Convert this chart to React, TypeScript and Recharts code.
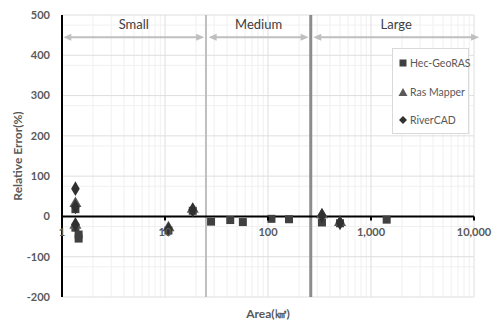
import {
  ScatterChart,
  Scatter,
  XAxis,
  YAxis,
  CartesianGrid,
  ReferenceLine,
} from "recharts";

const hecGeoRas = [
  { area: 1.35, error: 18 },
  { area: 1.35, error: -28 },
  { area: 1.45, error: -45 },
  { area: 1.45, error: -55 },
  { area: 10.8, error: -35 },
  { area: 18.6, error: 14 },
  { area: 28, error: -13 },
  { area: 43, error: -9 },
  { area: 57, error: -14 },
  { area: 108, error: -6 },
  { area: 160, error: -7 },
  { area: 334, error: -15 },
  { area: 500, error: -17 },
  { area: 1420, error: -8 },
];

const rasMapper = [
  { area: 1.35, error: 32 },
  { area: 1.35, error: -22 },
  { area: 10.8, error: -28 },
  { area: 18.6, error: 18 },
  { area: 334, error: 4 },
  { area: 500, error: -15 },
];

const riverCad = [
  { area: 1.35, error: 69 },
  { area: 1.35, error: 24 },
  { area: 1.35, error: -20 },
  { area: 10.8, error: -32 },
  { area: 18.6, error: 16 },
  { area: 334, error: 2 },
  { area: 500, error: -16 },
];

const xTicks = [1, 10, 100, 1000, 10000];
const yTicks = [-200, -100, 0, 100, 200, 300, 400, 500];
const xMinor = [2, 3, 4, 5, 6, 7, 8, 9, 20, 30, 40, 50, 60, 70, 80, 90, 200, 300, 400, 500, 600, 700, 800, 900, 2000, 3000, 4000, 5000, 6000, 7000, 8000, 9000];
const yMinor = [-175, -150, -125, -75, -50, -25, 25, 50, 75, 125, 150, 175, 225, 250, 275, 325, 350, 375, 425, 450, 475];

const classBounds = [25, 260];
const classes = [
  { name: "Small", from: 1.03, to: 24 },
  { name: "Medium", from: 26.5, to: 248 },
  { name: "Large", from: 275, to: 11200 },
];
const arrowY = 445;

const W = 492;
const H = 320;
const M = { top: 15, right: 18, left: 12, bottom: 0 };
const X_AXIS_H = 23;
const PLOT_H = H - M.top - M.bottom - X_AXIS_H;
const ZERO_SHIFT = (PLOT_H * 200) / 700;

const TEXT = "#595959";
const FONT = "Lato, 'Open Sans', sans-serif";

function XTick({ x, y, payload }: any) {
  const zy = y - ZERO_SHIFT;
  return (
    <g>
      <line x1={x} x2={x} y1={zy} y2={zy + 4} stroke="#000" strokeWidth={2} />
      <text x={x} y={zy + 20} textAnchor="middle" fill={TEXT} fontSize={11} fontWeight={700} fontFamily={FONT}>
        {payload.value.toLocaleString("en-US")}
      </text>
    </g>
  );
}

function ArrowShape({ x1, y1, x2, y2 }: any) {
  const s = 8;
  const w = 3.5;
  return (
    <g>
      <line x1={x1 + 4} y1={y1} x2={x2 - 4} y2={y2} stroke="#bfbfbf" strokeWidth={2} />
      <polygon points={`${x1},${y1} ${x1 + s},${y1 - w} ${x1 + s},${y1 + w}`} fill="#bfbfbf" />
      <polygon points={`${x2},${y2} ${x2 - s},${y2 - w} ${x2 - s},${y2 + w}`} fill="#bfbfbf" />
    </g>
  );
}

const legendItems = [
  { name: "Hec-GeoRAS", shape: "square", color: "#404040" },
  { name: "Ras Mapper", shape: "triangle", color: "#595959" },
  { name: "RiverCAD", shape: "diamond", color: "#303030" },
];

function LegendIcon({ shape, color }: { shape: string; color: string }) {
  if (shape === "square") return <rect x={1.5} y={1.5} width={7} height={7} fill={color} />;
  if (shape === "triangle") return <polygon points="5,1 9.5,9 0.5,9" fill={color} />;
  return <polygon points="5,1 9,5 5,9 1,5" fill={color} />;
}

function LegendBox() {
  return (
    <div
      style={{
        position: "absolute",
        left: 392,
        top: 48,
        width: 77,
        height: 86,
        boxSizing: "border-box",
        border: "1px solid #d9d9d9",
        background: "#fff",
        fontFamily: FONT,
        fontSize: 10.5,
        color: TEXT,
        whiteSpace: "nowrap",
      }}
    >
      {legendItems.map((it, i) => (
        <div
          key={it.name}
          style={{ position: "absolute", left: 5, top: 6 + i * 28.5, display: "flex", alignItems: "center", height: 16 }}
        >
          <svg width={10} height={10} style={{ marginRight: 2 }}>
            <LegendIcon shape={it.shape} color={it.color} />
          </svg>
          <span>{it.name}</span>
        </div>
      ))}
    </div>
  );
}

export default function App() {
  return (
    <div style={{ position: "absolute", left: 0, top: 0, width: W, height: H, background: "#fff" }}>
      <ScatterChart width={W} height={H} margin={M}>
        <CartesianGrid stroke="#f0f0f0" horizontalValues={yMinor} verticalValues={xMinor} />
        <CartesianGrid stroke="#dedede" horizontalValues={yTicks} verticalValues={xTicks} />
        <XAxis
          dataKey="area"
          type="number"
          scale="log"
          domain={[1, 10000]}
          ticks={xTicks}
          allowDataOverflow
          height={X_AXIS_H}
          axisLine={false}
          tickLine={false}
          tickSize={0}
          tickMargin={0}
          tick={<XTick />}
          interval={0}
          label={{
            value: "Area(㎢)",
            position: "insideBottom",
            offset: 2,
            fill: TEXT,
            fontSize: 12,
            fontWeight: 700,
            fontFamily: FONT,
          }}
        />
        <YAxis
          dataKey="error"
          type="number"
          domain={[-200, 500]}
          ticks={yTicks}
          width={50}
          axisLine={{ stroke: "#000", strokeWidth: 2 }}
          tickLine={false}
          tickSize={0}
          tickMargin={12}
          tick={{ fill: TEXT, fontSize: 11, fontWeight: 700, fontFamily: FONT }}
          label={{
            value: "Relative Error(%)",
            angle: -90,
            position: "insideLeft",
            offset: 6,
            style: { textAnchor: "middle" },
            fill: TEXT,
            fontSize: 12,
            fontWeight: 700,
            fontFamily: FONT,
          }}
        />
        <ReferenceLine x={classBounds[0]} stroke="#bfbfbf" strokeWidth={2} />
        <ReferenceLine x={classBounds[1]} stroke="#8c8c8c" strokeWidth={3} />
        <ReferenceLine y={0} stroke="#000" strokeWidth={2} />
        {classes.map((c) => (
          <ReferenceLine
            key={c.name}
            segment={[
              { x: c.from, y: arrowY },
              { x: c.to, y: arrowY },
            ]}
            ifOverflow="visible"
            shape={<ArrowShape />}
            label={{
              value: c.name,
              position: "top",
              offset: 8,
              fill: "#404040",
              fontSize: 13,
              fontFamily: FONT,
            }}
          />
        ))}
        <Scatter name="Hec-GeoRAS" data={hecGeoRas} shape="square" size={40} fill="#404040" isAnimationActive={false} />
        <Scatter name="Ras Mapper" data={rasMapper} shape="triangle" size={40} fill="#595959" isAnimationActive={false} />
        <Scatter name="RiverCAD" data={riverCad} shape="diamond" size={26} fill="#303030" isAnimationActive={false} />
      </ScatterChart>
      <LegendBox />
    </div>
  );
}
